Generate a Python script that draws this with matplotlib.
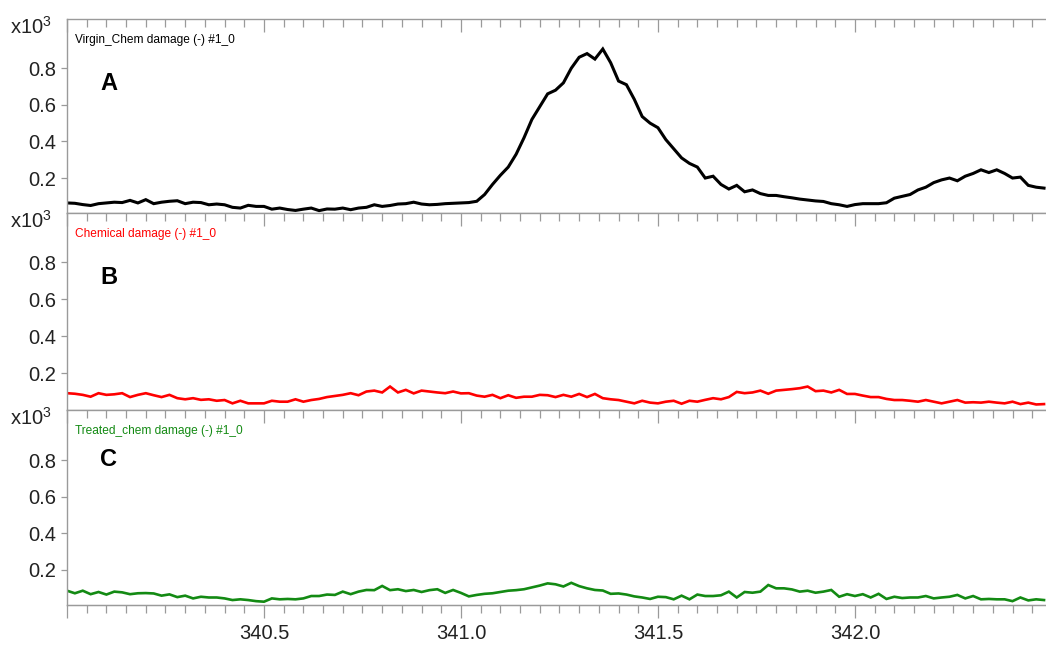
import numpy as np
import matplotlib
matplotlib.use("Agg")
import matplotlib.pyplot as plt
from matplotlib.ticker import MultipleLocator, FixedLocator

plt.rcParams["font.family"] = ["Liberation Sans", "DejaVu Sans"]
plt.rcParams["mathtext.default"] = "regular"

# m/z axis (0.02 steps)
mz = np.round(np.arange(340.0, 342.481, 0.02), 2)

# intensities in units of 10^3
virgin = [
    0.064, 0.062, 0.055, 0.050, 0.060, 0.064, 0.068, 0.066, 0.078, 0.064,
    0.082, 0.060, 0.068, 0.073, 0.076, 0.060, 0.068, 0.066, 0.054, 0.058,
    0.054, 0.040, 0.036, 0.051, 0.045, 0.045, 0.030, 0.036, 0.028, 0.023,
    0.030, 0.036, 0.022, 0.031, 0.030, 0.036, 0.027, 0.036, 0.040, 0.054,
    0.045, 0.050, 0.058, 0.060, 0.068, 0.058, 0.054, 0.056, 0.060, 0.062,
    0.064, 0.066, 0.073, 0.110, 0.165, 0.215, 0.260, 0.330, 0.420, 0.520,
    0.590, 0.660, 0.680, 0.720, 0.800, 0.860, 0.880, 0.850, 0.905, 0.830,
    0.730, 0.710, 0.630, 0.536, 0.500, 0.475, 0.410, 0.360, 0.310, 0.280,
    0.260, 0.200, 0.210, 0.165, 0.140, 0.160, 0.125, 0.135, 0.115, 0.105,
    0.105, 0.098, 0.092, 0.085, 0.080, 0.075, 0.072, 0.060, 0.054, 0.045,
    0.055, 0.060, 0.060, 0.060, 0.065, 0.090, 0.100, 0.110, 0.135, 0.150,
    0.175, 0.190, 0.200, 0.185, 0.210, 0.225, 0.245, 0.230, 0.245, 0.225,
    0.200, 0.205, 0.160, 0.150, 0.145,
]
chemical = [
    0.091, 0.088, 0.082, 0.072, 0.091, 0.082, 0.085, 0.091, 0.070, 0.082,
    0.091, 0.080, 0.070, 0.082, 0.064, 0.058, 0.064, 0.055, 0.058, 0.050,
    0.054, 0.036, 0.050, 0.036, 0.036, 0.036, 0.050, 0.045, 0.045, 0.058,
    0.045, 0.054, 0.060, 0.070, 0.076, 0.082, 0.091, 0.080, 0.100, 0.105,
    0.095, 0.127, 0.095, 0.109, 0.090, 0.105, 0.100, 0.095, 0.091, 0.100,
    0.090, 0.091, 0.078, 0.072, 0.082, 0.064, 0.080, 0.066, 0.072, 0.072,
    0.082, 0.080, 0.070, 0.082, 0.072, 0.087, 0.070, 0.087, 0.064, 0.058,
    0.054, 0.045, 0.036, 0.050, 0.040, 0.036, 0.045, 0.050, 0.034, 0.050,
    0.045, 0.055, 0.064, 0.058, 0.070, 0.098, 0.091, 0.095, 0.105, 0.088,
    0.105, 0.109, 0.113, 0.118, 0.127, 0.102, 0.105, 0.095, 0.109, 0.087,
    0.087, 0.078, 0.070, 0.070, 0.060, 0.054, 0.054, 0.050, 0.045, 0.054,
    0.045, 0.036, 0.045, 0.054, 0.040, 0.042, 0.040, 0.045, 0.040, 0.036,
    0.045, 0.032, 0.040, 0.030, 0.032,
]
treated = [
    0.087, 0.073, 0.087, 0.068, 0.080, 0.066, 0.082, 0.078, 0.068, 0.073,
    0.074, 0.072, 0.060, 0.067, 0.052, 0.060, 0.045, 0.054, 0.050, 0.050,
    0.045, 0.036, 0.040, 0.036, 0.030, 0.027, 0.045, 0.040, 0.042, 0.040,
    0.045, 0.058, 0.058, 0.066, 0.064, 0.082, 0.068, 0.082, 0.091, 0.090,
    0.113, 0.090, 0.095, 0.085, 0.091, 0.080, 0.090, 0.095, 0.075, 0.091,
    0.075, 0.056, 0.064, 0.070, 0.073, 0.080, 0.087, 0.090, 0.095, 0.105,
    0.115, 0.127, 0.122, 0.110, 0.130, 0.112, 0.100, 0.091, 0.088, 0.070,
    0.072, 0.066, 0.056, 0.050, 0.042, 0.054, 0.052, 0.040, 0.060, 0.040,
    0.066, 0.058, 0.058, 0.062, 0.082, 0.050, 0.080, 0.076, 0.082, 0.118,
    0.100, 0.100, 0.094, 0.082, 0.087, 0.076, 0.082, 0.091, 0.054, 0.068,
    0.058, 0.068, 0.050, 0.070, 0.042, 0.054, 0.047, 0.050, 0.050, 0.058,
    0.045, 0.050, 0.054, 0.064, 0.045, 0.058, 0.040, 0.042, 0.040, 0.040,
    0.030, 0.050, 0.034, 0.040, 0.036,
]

series = [virgin, chemical, treated]
names = ["Virgin_Chem damage (-) #1_0", "Chemical damage (-) #1_0",
         "Treated_chem damage (-) #1_0"]
colors = ["black", "#ff0000", "#138a13"]
letters = ["A", "B", "C"]
widths = [2.2, 1.9, 1.9]

W, H = 1046, 646
fig = plt.figure(figsize=(W / 100, H / 100), dpi=100)

# panel boxes in pixels: (top, bottom)
boxes = [(19, 213), (213, 410), (410, 605)]
ylims = [(0.009, 1.069), (0.0, 1.067), (0.009, 1.073)]
letter_y = [83, 278, 460]
left_px = 67
grey = "#9a9a9a"
label_size = 14.5

axes = []
for i, (top, bot) in enumerate(boxes):
    ax = fig.add_axes([left_px / W, 1 - bot / H, 1 - left_px / W, (bot - top) / H])
    ax.plot(mz, series[i], color=colors[i], lw=widths[i], solid_joinstyle="miter")
    ax.set_xlim(340.0, 342.485)
    ax.set_ylim(*ylims[i])

    for s in ["left", "top", "bottom"]:
        ax.spines[s].set_color(grey)
        ax.spines[s].set_linewidth(1.0)
    ax.spines["right"].set_visible(False)

    ax.yaxis.set_major_locator(FixedLocator([0.2, 0.4, 0.6, 0.8]))
    ax.yaxis.set_major_formatter(plt.FuncFormatter(lambda v, p: f"{v:.1f}"))
    ax.tick_params(axis="y", direction="out", length=4.5, width=0.9, color=grey,
                   labelsize=label_size, pad=3.5, labelcolor="#222222")

    ax.xaxis.set_major_locator(MultipleLocator(0.5))
    ax.xaxis.set_minor_locator(MultipleLocator(0.05))
    ax.xaxis.set_ticks_position("top")
    ax.tick_params(axis="x", which="major", direction="in", length=9.5, width=0.9,
                   color=grey, labeltop=False, labelbottom=False)
    ax.tick_params(axis="x", which="minor", direction="in", length=5.5, width=0.9,
                   color=grey)

    # trace name and panel letter
    ax.text(8 / 979, 1 - 21 / (bot - top), names[i], transform=ax.transAxes,
            fontsize=8.6, color=colors[i], ha="left", va="center")
    ax.text(33 / 979, 1 - (letter_y[i] - top) / (bot - top), letters[i],
            transform=ax.transAxes, fontsize=17, fontweight="bold",
            ha="left", va="center")

    # intensity multiplier
    fig.text(10 / W, 1 - (top + 8) / H, r"x10$^{3}$", fontsize=label_size,
             color="#222222", ha="left", va="center")
    axes.append(ax)

# bottom axis with outward ticks and labels
bottom = axes[-1].secondary_xaxis("bottom")
bottom.xaxis.set_major_locator(MultipleLocator(0.5))
bottom.xaxis.set_minor_locator(MultipleLocator(0.05))
bottom.xaxis.set_major_formatter(plt.FuncFormatter(
    lambda v, p: f"{v:.1f}" if 340.2 < v < 342.3 else ""))
bottom.spines["bottom"].set_color(grey)
bottom.tick_params(axis="x", which="major", direction="out", length=9.5, width=0.9,
                   color=grey, labelsize=label_size, pad=4, labelcolor="#222222")
bottom.tick_params(axis="x", which="minor", direction="out", length=5.5, width=0.9,
                   color=grey)

fig.savefig("out.png", dpi=100, facecolor="white")
